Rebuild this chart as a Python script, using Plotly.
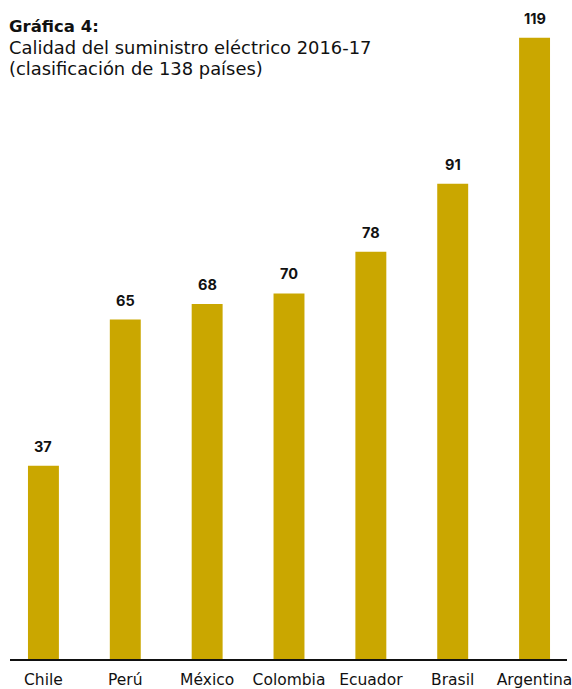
import plotly.graph_objects as go

# Ranking of electricity supply quality, 2016-17 (out of 138 countries)
countries = ["Chile", "Perú", "México", "Colombia", "Ecuador", "Brasil", "Argentina"]
ranks = [37, 65, 68, 70, 78, 91, 119]
title_lines = [
    "<b>Gráfica 4:</b>",
    "Calidad del suministro eléctrico 2016-17",
    "(clasificación de 138 países)",
]

bar_color = "#CAA700"
text_color = "#111111"
font_family = "DejaVu Sans, sans-serif"
num_family = "Inter, Lato, sans-serif"

W, H = 572, 689
ml, mr, mt, mb = 10, 4, 0, 23
plot_w = W - ml - mr
plot_h = H - mt - mb
step = 82.0
x0 = -(43.5 - ml) / step
x1 = x0 + plot_w / step
ymax = plot_h / 5.277

fig = go.Figure()
fig.add_trace(go.Bar(
    x=list(range(len(countries))),
    y=ranks,
    marker=dict(color=bar_color, line=dict(width=0)),
    width=0.378,
    hoverinfo="skip",
))

# Value labels above each bar
for i, v in enumerate(ranks):
    fig.add_annotation(
        x=i, y=v, xref="x", yref="y",
        text=f"<b>{v}</b>", showarrow=False,
        yanchor="bottom", yshift=9,
        font=dict(family=num_family, size=14.5, color=text_color),
    )

# Title block, one annotation per line
line_centers = [26.5, 48.5, 69.5]
line_sizes = [16.5, 17.9, 17.9]
for txt, yc, fs in zip(title_lines, line_centers, line_sizes):
    fig.add_annotation(
        x=(7 - ml) / plot_w, y=1 - yc / plot_h, xref="paper", yref="paper",
        xanchor="left", yanchor="middle",
        text=txt, showarrow=False, align="left",
        font=dict(family=font_family, size=fs, color=text_color),
    )

fig.update_layout(
    width=W, height=H,
    margin=dict(l=ml, r=mr, t=mt, b=mb, pad=0),
    paper_bgcolor="white", plot_bgcolor="white",
    showlegend=False,
    xaxis=dict(
        range=[x0, x1],
        tickmode="array",
        tickvals=list(range(len(countries))),
        ticktext=countries,
        showgrid=False, zeroline=False,
        showline=True, linecolor="#111111", linewidth=2,
        ticks="", ticklabelstandoff=5,
        ticklabeloverflow="allow",
        tickfont=dict(family=font_family, size=15.5, color=text_color),
    ),
    yaxis=dict(
        range=[0, ymax],
        visible=False, showgrid=False, zeroline=False,
    ),
)

fig.write_html("out.html")
